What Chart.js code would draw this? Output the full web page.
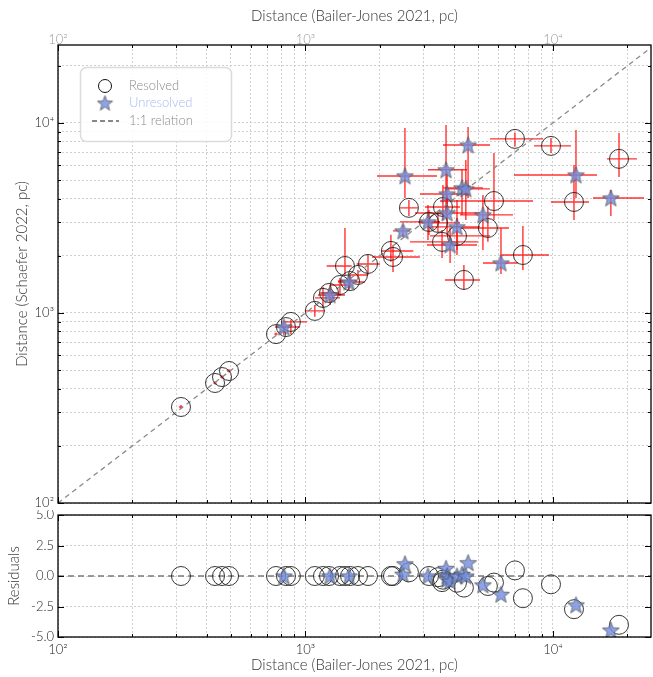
<!DOCTYPE html>
<html>
<head>
<meta charset="utf-8">
<script src="https://cdn.jsdelivr.net/npm/chart.js@4.4.1/dist/chart.umd.min.js"></script>
<style>
  html, body { margin: 0; padding: 0; background: #fff; }
  #wrap { position: relative; width: 653px; height: 677px; }
  #main-chart { position: absolute; left: 0; top: 0; }
  #resid-chart { position: absolute; left: 0; top: 510px; }
</style>
</head>
<body>
<div id="wrap">
  <canvas id="main-chart" width="653" height="510"></canvas>
  <canvas id="resid-chart" width="653" height="167"></canvas>
</div>
<script>
// resolved systems: Bailer-Jones distance, Schaefer distance, bounds, residual
const resolvedBJ    = [314, 431, 460, 491, 760, 834, 873, 1091, 1177, 1245, 1378, 1444, 1514, 1630, 1789, 2214, 2258, 2618, 3155, 3430, 3593, 3563, 4095, 4367, 5458, 5776, 7022, 7561, 9820, 12160, 18490];
const resolvedSch   = [320, 428, 460, 495, 774, 843, 897, 1025, 1200, 1274, 1403, 1766, 1472, 1585, 1811, 2120, 1971, 3573, 3013, 2977, 3611, 2366, 2543, 1492, 2800, 3881, 8240, 2018, 7568, 3838, 6470];
const resolvedBJLo  = [308, 424, 452, 482, 748, 815, 811, 995, 1092, 1145, 1256, 1218, 1353, 1485, 1610, 2032, 1857, 2409, 2848, 2901, 3040, 2644, 3184, 3660, 4209, 3495, 5565, 6204, 8381, 9815, 16530];
const resolvedBJHi  = [320, 438, 468, 500, 772, 855, 1014, 1199, 1379, 1353, 1541, 1537, 1610, 1789, 2000, 2727, 2901, 2848, 3495, 4209, 4209, 4977, 5565, 5071, 6640, 8304, 9112, 9634, 11820, 13980, 21850];
const resolvedSchLo = [312, 420, 452, 486, 760, 825, 775, 956, 1058, 1200, 1229, 1585, 1375, 1500, 1585, 1862, 1644, 3240, 2574, 2669, 3087, 1948, 2020, 1322, 2373, 3087, 7505, 1684, 6953, 3087, 5196];
const resolvedSchHi = [328, 436, 469, 505, 790, 862, 919, 1102, 1375, 1350, 1529, 2802, 1585, 1684, 2020, 2576, 2280, 3933, 3484, 3401, 4718, 2734, 3162, 1789, 3627, 6953, 8890, 2871, 8340, 6010, 8860];
const resolvedResid = [0, 0, 0, 0, 0, 0, 0, 0, 0, 0, 0, 0, 0, 0, 0, 0, 0, 0.3, 0, -0.1, -0.3, -0.5, -0.55, -0.95, -0.82, -0.54, 0.46, -1.82, -0.68, -2.72, -4.0];

// unresolved systems
const unresolvedBJ    = [818, 1256, 1499, 2477, 2523, 3126, 3698, 3734, 3734, 3840, 4095, 4290, 4446, 4540, 5212, 6166, 12390, 17140];
const unresolvedSch   = [843, 1244, 1456, 2703, 5260, 3013, 5664, 4226, 3357, 2280, 2838, 4550, 4497, 7650, 3281, 1833, 5323, 4027];
const unresolvedBJLo  = [753, 1123, 1353, 2257, 1945, 2409, 3126, 2901, 2770, 3097, 3184, 3593, 3660, 3593, 4209, 5214, 6957, 14510];
const unresolvedBJHi  = [951, 1444, 1740, 2644, 3399, 3495, 4493, 4620, 5071, 4932, 5071, 5214, 5565, 5565, 6892, 7221, 15060, 23320];
const unresolvedSchLo = [766, 1102, 1322, 2512, 4030, 2422, 3280, 3401, 2574, 1833, 2146, 3280, 3087, 4030, 2146, 1605, 4030, 3240];
const unresolvedSchHi = [889, 1404, 1585, 2906, 9412, 3702, 9760, 5521, 4180, 2802, 3933, 5656, 6389, 9527, 4180, 2802, 9187, 4441];
const unresolvedResid = [0, 0, 0, 0.15, 1.0, 0, 0.63, 0, -0.27, -0.41, 0, 0.14, 0, 1.09, -0.73, -1.5, -2.37, -4.43];

const oneToOne = [100, 26000];
const logTicks = [100, 200, 300, 400, 500, 600, 700, 800, 900, 1000, 2000, 3000, 4000, 5000, 6000, 7000, 8000, 9000, 10000, 20000];
const decadeLabels = { 100: '10²', 1000: '10³', 10000: '10⁴' };
const residTicks = [-5, -2.5, 0, 2.5, 5];

const FONT = 'Lato, "Open Sans", sans-serif';
const X_MAX = 24900, Y_MAX = 25700;

function makeStar(size) {
    const c = document.createElement('canvas');
    c.width = size; c.height = size;
    const g = c.getContext('2d');
    const cx = size / 2, cy = size / 2 + size * 0.04;
    const R = size * 0.47, r = R * 0.42;
    g.beginPath();
    for (let i = 0; i < 10; i++) {
        const ang = -Math.PI / 2 + i * Math.PI / 5;
        const rad = i % 2 ? r : R;
        g.lineTo(cx + rad * Math.cos(ang), cy + rad * Math.sin(ang));
    }
    g.closePath();
    g.fillStyle = 'rgba(112, 140, 222, 0.8)';
    g.fill();
    g.strokeStyle = 'rgba(70, 70, 70, 0.85)';
    g.lineWidth = 0.8;
    g.stroke();
    return c;
}
const starImg = makeStar(19);
const legendStar = makeStar(17);

const isDecade = v => v === 100 || v === 1000 || v === 10000;

// red error bars, drawn under the markers
const errorBars = {
    id: 'errorBars',
    beforeDatasetsDraw(chart) {
        const { ctx, chartArea: a, scales: { x, y } } = chart;
        ctx.save();
        ctx.beginPath();
        ctx.rect(a.left, a.top, a.right - a.left, a.bottom - a.top);
        ctx.clip();
        ctx.strokeStyle = 'rgba(255, 0, 0, 0.8)';
        ctx.lineWidth = 1.4;
        chart.data.datasets.forEach(ds => {
            if (!ds.errorBars) return;
            ds.data.forEach(p => {
                const px = x.getPixelForValue(p.x), py = y.getPixelForValue(p.y);
                ctx.beginPath();
                ctx.moveTo(x.getPixelForValue(p.xLo), py);
                ctx.lineTo(x.getPixelForValue(p.xHi), py);
                ctx.moveTo(px, y.getPixelForValue(p.yLo));
                ctx.lineTo(px, y.getPixelForValue(p.yHi));
                ctx.stroke();
            });
        });
        ctx.restore();
    }
};

// box frame with inward ticks on all four sides
function frameTicks(yMajor) {
    return {
        id: 'frameTicks',
        afterDatasetsDraw(chart) {
            const { ctx, chartArea: a, scales: { x, y } } = chart;
            ctx.save();
            ctx.strokeStyle = '#000';
            ctx.lineWidth = 1;
            ctx.beginPath();
            logTicks.forEach(v => {
                const px = Math.round(x.getPixelForValue(v)) + 0.5;
                const len = isDecade(v) ? 6 : 3;
                ctx.moveTo(px, a.bottom); ctx.lineTo(px, a.bottom - len);
                ctx.moveTo(px, a.top); ctx.lineTo(px, a.top + len);
            });
            y.ticks.forEach(t => {
                const py = Math.round(y.getPixelForValue(t.value)) + 0.5;
                const len = yMajor(t.value) ? 6 : 3;
                ctx.moveTo(a.left, py); ctx.lineTo(a.left + len, py);
                ctx.moveTo(a.right, py); ctx.lineTo(a.right - len, py);
            });
            ctx.stroke();
            ctx.lineWidth = 1.3;
            ctx.strokeRect(a.left, a.top, a.right - a.left, a.bottom - a.top);
            ctx.restore();
        }
    };
}

const legendBox = {
    id: 'legendBox',
    afterDraw(chart) {
        const ctx = chart.ctx;
        ctx.save();
        ctx.beginPath();
        ctx.roundRect(80.5, 67.5, 151, 74, 6);
        ctx.fillStyle = 'rgba(255, 255, 255, 0.85)';
        ctx.fill();
        ctx.strokeStyle = '#dcdcdc';
        ctx.lineWidth = 1.5;
        ctx.stroke();

        ctx.beginPath();
        ctx.arc(105, 86, 6.5, 0, Math.PI * 2);
        ctx.strokeStyle = '#111';
        ctx.lineWidth = 1;
        ctx.stroke();
        ctx.drawImage(legendStar, 105 - 8.5, 103 - 8.5);
        ctx.beginPath();
        ctx.setLineDash([5, 3]);
        ctx.moveTo(92, 121); ctx.lineTo(119, 121);
        ctx.strokeStyle = '#888';
        ctx.lineWidth = 2.2;
        ctx.stroke();
        ctx.setLineDash([]);

        ctx.font = '300 13px ' + FONT;
        ctx.textBaseline = 'middle';
        ctx.fillStyle = '#8a8a8a';
        ctx.fillText('Resolved', 129, 86);
        ctx.fillStyle = '#a9b9f2';
        ctx.fillText('Unresolved', 129, 103);
        ctx.fillStyle = '#8a8a8a';
        ctx.fillText('1:1 relation', 129, 121);
        ctx.restore();
    }
};

function toPoints(bj, sch, bjLo, bjHi, schLo, schHi) {
    return bj.map((x, i) => ({ x, y: sch[i], xLo: bjLo[i], xHi: bjHi[i], yLo: schLo[i], yHi: schHi[i] }));
}

const gridStyle = { color: '#c4c4c4', lineWidth: 0.8, drawTicks: false };
const dashedBorder = { display: false, dash: [2, 2] };
const setLogTicks = scale => { scale.ticks = logTicks.map(v => ({ value: v })); };
// fixed axis sizes, no label overhang padding
const fixSize = (w, h) => s => {
    if (w !== null) s.width = w;
    if (h !== null) s.height = h;
    s.paddingLeft = 0; s.paddingRight = 0; s.paddingTop = 0; s.paddingBottom = 0;
};

Chart.defaults.font.family = FONT;
Chart.defaults.font.weight = 300;
Chart.defaults.animation = false;

async function main() {
    const mainCanvas = document.querySelector('#main-chart');
    const residCanvas = document.querySelector('#resid-chart');

    new Chart(mainCanvas.getContext('2d'), {
        type: 'scatter',
        data: {
            datasets: [
                {
                    label: '1:1 relation',
                    type: 'line',
                    data: oneToOne.map(v => ({ x: v, y: v })),
                    borderColor: '#8a8a8a',
                    borderDash: [5, 4],
                    borderWidth: 1.3,
                    pointRadius: 0,
                    showLine: true,
                    order: 3,
                },
                {
                    label: 'Resolved',
                    data: toPoints(resolvedBJ, resolvedSch, resolvedBJLo, resolvedBJHi, resolvedSchLo, resolvedSchHi),
                    errorBars: true,
                    pointStyle: 'circle',
                    pointRadius: 9.5,
                    borderColor: '#222',
                    borderWidth: 0.9,
                    backgroundColor: 'rgba(255,255,255,0)',
                    order: 2,
                },
                {
                    label: 'Unresolved',
                    data: toPoints(unresolvedBJ, unresolvedSch, unresolvedBJLo, unresolvedBJHi, unresolvedSchLo, unresolvedSchHi),
                    errorBars: true,
                    pointStyle: starImg,
                    order: 1,
                },
            ]
        },
        options: {
            responsive: false,
            layout: { autoPadding: false, padding: { left: 0, right: 2, top: 0, bottom: 0 } },
            plugins: { legend: { display: false }, tooltip: { enabled: false } },
            scales: {
                x: {
                    type: 'logarithmic', position: 'bottom', min: 100, max: X_MAX,
                    afterBuildTicks: setLogTicks,
                    afterFit: fixSize(null, 7),
                    ticks: { display: false, autoSkip: false },
                    grid: gridStyle, border: dashedBorder,
                },
                xTop: {
                    type: 'logarithmic', position: 'top', min: 100, max: X_MAX,
                    afterBuildTicks: setLogTicks,
                    afterFit: fixSize(null, 45),
                    grid: { display: false, drawTicks: false },
                    border: { display: false },
                    ticks: {
                        autoSkip: false, maxRotation: 0, padding: -3,
                        color: '#9a9a9a', font: { size: 13 },
                        callback: v => decadeLabels[v] || '',
                    },
                    title: {
                        display: true, text: 'Distance (Bailer-Jones 2021, pc)',
                        color: '#333', font: { size: 15 }, padding: { top: 7, bottom: 0 },
                    },
                },
                y: {
                    type: 'logarithmic', min: 100, max: Y_MAX,
                    afterBuildTicks: setLogTicks,
                    afterFit: fixSize(58, null),
                    ticks: {
                        autoSkip: false, padding: 4, color: '#222', font: { size: 13 },
                        callback: v => decadeLabels[v] || '',
                    },
                    grid: gridStyle, border: dashedBorder,
                    title: {
                        display: true, text: 'Distance (Schaefer 2022, pc)',
                        color: '#333', font: { size: 15 }, padding: { top: 13, bottom: 0 },
                    },
                },
            },
        },
        plugins: [errorBars, frameTicks(isDecade), legendBox],
    });

    new Chart(residCanvas.getContext('2d'), {
        type: 'scatter',
        data: {
            datasets: [
                {
                    label: 'zero',
                    type: 'line',
                    data: oneToOne.map(v => ({ x: v, y: 0 })),
                    borderColor: '#7a7a7a',
                    borderDash: [6, 4],
                    borderWidth: 1.4,
                    pointRadius: 0,
                    showLine: true,
                    order: 3,
                },
                {
                    label: 'Resolved',
                    data: resolvedBJ.map((x, i) => ({ x, y: resolvedResid[i] })),
                    pointStyle: 'circle',
                    pointRadius: 9.5,
                    borderColor: '#222',
                    borderWidth: 0.9,
                    backgroundColor: 'rgba(255,255,255,0)',
                    order: 2,
                },
                {
                    label: 'Unresolved',
                    data: unresolvedBJ.map((x, i) => ({ x, y: unresolvedResid[i] })),
                    pointStyle: starImg,
                    order: 1,
                },
            ]
        },
        options: {
            responsive: false,
            layout: { autoPadding: false, padding: { left: 0, right: 2, top: 5, bottom: 0 } },
            plugins: { legend: { display: false }, tooltip: { enabled: false } },
            scales: {
                x: {
                    type: 'logarithmic', position: 'bottom', min: 100, max: X_MAX,
                    afterBuildTicks: setLogTicks,
                    afterFit: fixSize(null, 40),
                    ticks: {
                        autoSkip: false, maxRotation: 0, padding: 5,
                        color: '#222', font: { size: 13 },
                        callback: v => decadeLabels[v] || '',
                    },
                    grid: gridStyle, border: dashedBorder,
                    title: {
                        display: true, text: 'Distance (Bailer-Jones 2021, pc)',
                        color: '#333', font: { size: 15 }, padding: { top: 0, bottom: 3 },
                    },
                },
                y: {
                    min: -5, max: 5,
                    afterBuildTicks: s => { s.ticks = residTicks.map(v => ({ value: v })); },
                    afterFit: fixSize(58, null),
                    ticks: {
                        autoSkip: false, padding: 4, color: '#222', font: { size: 13 },
                        callback: v => v.toFixed(1),
                    },
                    grid: gridStyle, border: dashedBorder,
                    title: {
                        display: true, text: 'Residuals',
                        color: '#333', font: { size: 15 }, padding: { top: 5, bottom: 0 },
                    },
                },
            },
        },
        plugins: [errorBars, frameTicks(() => true)],
    });
}

main();
</script>
</body>
</html>
